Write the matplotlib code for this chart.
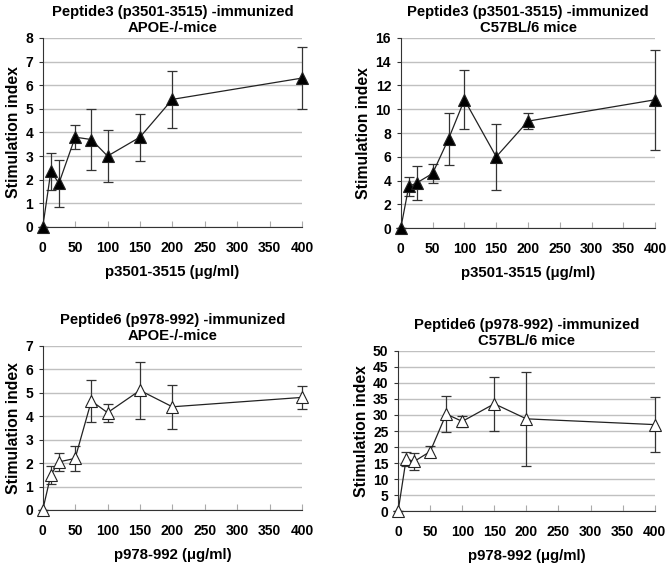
import numpy as np
import matplotlib
matplotlib.use("Agg")
import matplotlib.pyplot as plt

plt.rcParams["font.family"] = ["Liberation Sans", "DejaVu Sans"]
plt.rcParams["font.weight"] = "bold"

# concentrations (ug/ml)
dose = [0, 12.5, 25, 50, 75, 100, 150, 200, 400]
xticks = [0, 50, 100, 150, 200, 250, 300, 350, 400]

# Peptide3 - APOE-/- mice
p3_apoe = [0, 2.35, 1.85, 3.8, 3.7, 3.0, 3.8, 5.4, 6.3]
p3_apoe_err = [0, 0.8, 1.0, 0.5, 1.3, 1.1, 1.0, 1.2, 1.3]

# Peptide3 - C57BL/6 mice
p3_c57 = [0, 3.5, 3.8, 4.6, 7.5, 10.8, 6.0, 9.0, 10.8]
p3_c57_err = [0, 0.8, 1.4, 0.8, 2.2, 2.5, 2.8, 0.7, 4.2]

# Peptide6 - APOE-/- mice
p6_apoe = [0, 1.5, 2.05, 2.2, 4.65, 4.15, 5.1, 4.4, 4.8]
p6_apoe_err = [0, 0.38, 0.38, 0.53, 0.9, 0.38, 1.2, 0.95, 0.48]

# Peptide6 - C57BL/6 mice
p6_c57 = [0, 16.3, 15.5, 18.6, 30.3, 28.0, 33.5, 28.8, 27.0]
p6_c57_err = [0, 2.2, 2.7, 1.8, 5.7, 1.8, 8.4, 14.7, 8.7]

panels = [
    dict(rect=[0.064, 0.599, 0.388, 0.334], y=p3_apoe, err=p3_apoe_err,
         ymax=8, ystep=1, fill="black",
         title="Peptide3 (p3501-3515) -immunized\nAPOE-/-mice",
         xlabel="p3501-3515 (\u03bcg/ml)"),
    dict(rect=[0.600, 0.597, 0.381, 0.336], y=p3_c57, err=p3_c57_err,
         ymax=16, ystep=2, fill="black",
         title="Peptide3 (p3501-3515) -immunized\nC57BL/6 mice",
         xlabel="p3501-3515 (\u03bcg/ml)"),
    dict(rect=[0.064, 0.099, 0.388, 0.290], y=p6_apoe, err=p6_apoe_err,
         ymax=7, ystep=1, fill="white",
         title="Peptide6 (p978-992) -immunized\nAPOE-/-mice",
         xlabel="p978-992 (\u03bcg/ml)"),
    dict(rect=[0.596, 0.097, 0.384, 0.283], y=p6_c57, err=p6_c57_err,
         ymax=50, ystep=5, fill="white",
         title="Peptide6 (p978-992) -immunized\nC57BL/6 mice",
         xlabel="p978-992 (\u03bcg/ml)"),
]

fig = plt.figure(figsize=(6.68, 5.66), dpi=100)

for p in panels:
    ax = fig.add_axes(p["rect"])
    ax.set_xlim(0, 400)
    ax.set_ylim(0, p["ymax"])
    ax.set_yticks(np.arange(0, p["ymax"] + 0.01, p["ystep"]))
    ax.set_xticks(xticks)
    ax.yaxis.grid(True, color="#c0c0c0", linewidth=1.0)
    ax.set_axisbelow(True)
    for s in ("top", "right"):
        ax.spines[s].set_visible(False)
    ax.spines["left"].set_color("#333333")
    ax.spines["bottom"].set_color("#333333")
    ax.tick_params(axis="x", direction="in", length=4, color="#aaaaaa",
                   labelsize=10, pad=10)
    ax.tick_params(axis="y", direction="out", length=3, color="#333333",
                   labelsize=10, pad=4)

    ax.errorbar(dose, p["y"], yerr=p["err"], fmt="none", ecolor="#333333",
                elinewidth=0.9, capsize=3.5, capthick=0.9, clip_on=False)
    ax.plot(dose, p["y"], color="#222222", linewidth=0.9, marker="^",
            markersize=9, markerfacecolor=p["fill"], markeredgecolor="#222222",
            markeredgewidth=0.8, clip_on=False, zorder=5)

    ax.set_title(p["title"], fontsize=10.7, fontweight="bold", pad=4,
                 linespacing=1.2)
    ax.set_ylabel("Stimulation index", fontsize=11.3, fontweight="bold",
                  labelpad=3)
    ax.set_xlabel(p["xlabel"], fontsize=10.8, fontweight="bold", labelpad=7)

fig.savefig("out.png", dpi=100)
